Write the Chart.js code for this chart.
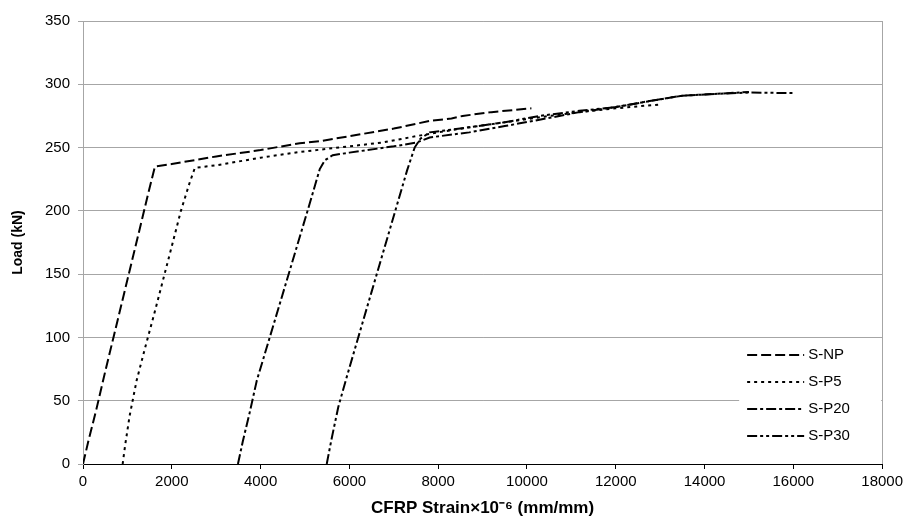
<!DOCTYPE html>
<html>
<head>
<meta charset="utf-8">
<script src="https://cdn.jsdelivr.net/npm/chart.js@4.4.0/dist/chart.umd.min.js"></script>
<style>
  html, body { margin: 0; padding: 0; background: #fff; }
  #wrap { width: 907px; height: 522px; }
</style>
</head>
<body>
<div id="wrap"><canvas id="chart"></canvas></div>
<script>
// tick labels
const xTicks = [0, 2000, 4000, 6000, 8000, 10000, 12000, 14000, 16000, 18000];
const yTicks = [0, 50, 100, 150, 200, 250, 300, 350];

// series (strain x10^-6, load kN)
const seriesNames = ['S-NP', 'S-P5', 'S-P20', 'S-P30'];

const snpStrain = [0, 120, 300, 500, 700, 900, 1100, 1300, 1450, 1620, 2000, 3000, 4000, 4880, 5333, 6000, 7000, 7800, 8300, 8550, 9200, 10100];
const snpLoad   = [0, 18, 43, 73, 102, 131, 160, 189, 211, 235, 237, 243, 248, 253.5, 255, 259, 265, 271, 273, 275, 278, 281];

const sp5Strain = [893, 950, 1050, 1208, 1400, 1600, 1800, 2000, 2205, 2400, 2520, 3000, 4000, 4880, 6000, 6750, 7500, 8000, 8700, 9500, 10300, 11180, 12000, 12980];
const sp5Load   = [0, 15, 38, 66, 92, 118, 145, 172, 200, 222, 234, 236, 242, 246.5, 251, 254, 259, 262, 266, 270, 274, 278, 281, 284];

const sp20Strain = [3490, 3600, 3750, 3915, 4300, 4700, 5100, 5333, 5450, 5625, 6000, 6400, 7000, 7515, 7808, 8700, 9500, 10283, 11180, 12000, 12800, 13500, 14300, 15000];
const sp20Load   = [0, 18, 40, 66, 111, 158, 205, 233, 240, 244, 246, 248, 251, 254, 258, 262, 267, 272, 278, 282, 287, 291, 292.5, 294];

const sp30Strain = [5490, 5600, 5750, 5918, 6100, 6300, 6500, 6700, 6900, 7100, 7300, 7470, 7600, 7808, 8700, 9500, 10283, 11180, 12000, 12800, 13500, 14300, 15000, 16020];
const sp30Load   = [0, 20, 45, 66, 88, 112, 136, 160, 184, 208, 232, 250, 257, 262, 266, 270, 275, 279, 282, 287, 291, 292.5, 293.5, 293];

const dashes = [[10, 4], [3, 4], [10, 3, 3, 3], [10, 3, 3, 3, 3, 3]];

const fontFamily = '"Liberation Sans", Arial, sans-serif';

function toPoints(xs, ys) {
  return xs.map((x, i) => ({ x: x, y: ys[i] }));
}

const allStrain = [snpStrain, sp5Strain, sp20Strain, sp30Strain];
const allLoad = [snpLoad, sp5Load, sp20Load, sp30Load];

const datasets = seriesNames.map((name, i) => ({
  label: name,
  data: toPoints(allStrain[i], allLoad[i]),
  showLine: true,
  borderColor: '#000',
  backgroundColor: '#000',
  borderWidth: 2,
  borderDash: dashes[i],
  pointRadius: 0,
  tension: 0
}));

// legend drawn inside the plot, bottom right, with line samples
const lineLegend = {
  id: 'lineLegend',
  afterDraw(chart) {
    const { ctx, chartArea } = chart;
    const left = chartArea.right - 143;
    const top = chartArea.bottom - 125;
    ctx.save();
    ctx.fillStyle = '#fff';
    ctx.fillRect(left, top, 142, 115);
    ctx.font = '15px ' + fontFamily;
    ctx.textBaseline = 'middle';
    seriesNames.forEach((name, i) => {
      const y = top + 16 + i * 27;
      ctx.strokeStyle = '#000';
      ctx.lineWidth = 2;
      ctx.setLineDash(dashes[i]);
      ctx.beginPath();
      ctx.moveTo(left + 8, y);
      ctx.lineTo(left + 65, y);
      ctx.stroke();
      ctx.setLineDash([]);
      ctx.fillStyle = '#000';
      ctx.fillText(name, left + 69, y);
    });
    ctx.restore();
  }
};

new Chart(document.getElementById('chart'), {
  type: 'scatter',
  data: { datasets: datasets },
  plugins: [lineLegend],
  options: {
    responsive: true,
    maintainAspectRatio: false,
    animation: false,
    layout: { padding: { top: 21, right: 24, left: 0, bottom: 0 } },
    plugins: {
      legend: { display: false },
      tooltip: { enabled: false }
    },
    scales: {
      x: {
        type: 'linear',
        min: 0,
        max: 18000,
        afterBuildTicks: (scale) => { scale.ticks = xTicks.map(v => ({ value: v })); },
        afterFit: (scale) => { scale.height = 58; },
        border: { color: '#000', width: 1 },
        grid: {
          drawOnChartArea: true,
          color: (c) => (c.tick && c.tick.value === 18000 ? '#a6a6a6' : 'rgba(0,0,0,0)'),
          tickColor: '#000',
          tickLength: 5
        },
        ticks: {
          color: '#000',
          padding: 4,
          maxRotation: 0,
          font: { family: fontFamily, size: 15 },
          callback: (v) => String(v)
        },
        title: {
          display: true,
          text: 'CFRP Strain×10⁻⁶ (mm/mm)',
          color: '#000',
          font: { family: fontFamily, size: 17, weight: 'bold' },
          padding: { top: 0, bottom: 3 }
        }
      },
      y: {
        min: 0,
        max: 350,
        afterBuildTicks: (scale) => { scale.ticks = yTicks.map(v => ({ value: v })); },
        afterFit: (scale) => { scale.width = 83; },
        border: { color: '#a6a6a6', width: 1 },
        grid: {
          color: '#a6a6a6',
          tickColor: '#a6a6a6',
          tickLength: 5
        },
        ticks: {
          color: '#000',
          padding: 8,
          font: { family: fontFamily, size: 15 },
          callback: (v) => String(v)
        },
        title: {
          display: true,
          text: 'Load (kN)',
          color: '#000',
          font: { family: fontFamily, size: 14, weight: 'bold' },
          padding: { top: 10, bottom: 0 }
        }
      }
    }
  }
});
</script>
</body>
</html>
